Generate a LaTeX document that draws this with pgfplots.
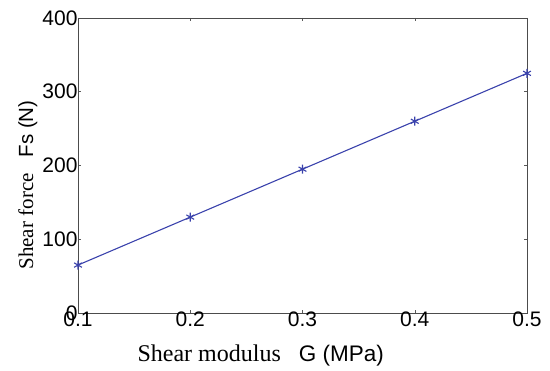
\documentclass[border=0pt]{standalone}
\usepackage{fontspec}
\setmainfont{Liberation Serif}
\setsansfont{Liberation Sans}
\usepackage{pgfplots}
\pgfplotsset{compat=1.18}
\definecolor{lineblue}{RGB}{58,66,172}
\begin{document}
\begin{tikzpicture}
\begin{axis}[
  name=ax,
  scale only axis,
  width=449pt, height=295pt,
  xmin=0.1, xmax=0.5, ymin=0, ymax=400,
  xtick={0.1,0.2,0.3,0.4,0.5},
  ytick={0,100,200,300,400},
  xticklabels={0.1,0.2,0.3,0.4,0.5},
  yticklabels={0,100,200,300,400},
  tick align=inside,
  major tick length=3pt,
  tick style={gray!70!black, line width=0.5pt},
  axis line style={gray!60!black, line width=0.8pt},
  ticklabel style={font=\sffamily\fontsize{21}{21}\selectfont},
  xticklabel style={yshift=5pt},
  yticklabel style={xshift=3pt},
  xlabel={\fontsize{24}{24}\selectfont Shear modulus\ \ \ {\sffamily\fontsize{22.5}{22.5}\selectfont G (MPa)}},
  ylabel={\fontsize{21}{21}\selectfont Shear force\hspace{16pt}{\sffamily\fontsize{20.5}{20.5}\selectfont Fs (N)}},
  xlabel style={at={(axis description cs:0.407,-0.166)}, anchor=base},
  ylabel style={at={(axis description cs:-0.1,0.434)}, anchor=base},
  clip=false,
]
\addplot[color=lineblue, line width=1.1pt, mark=asterisk, mark size=4.5pt, mark options={line width=1.1pt}]
coordinates {(0.1,65) (0.2,130) (0.3,195) (0.4,260) (0.5,325)};
\end{axis}
\useasboundingbox (ax.south west) ++(-78pt,-58pt) rectangle ([shift={(23pt,18pt)}]ax.north east);
\end{tikzpicture}
\end{document}
